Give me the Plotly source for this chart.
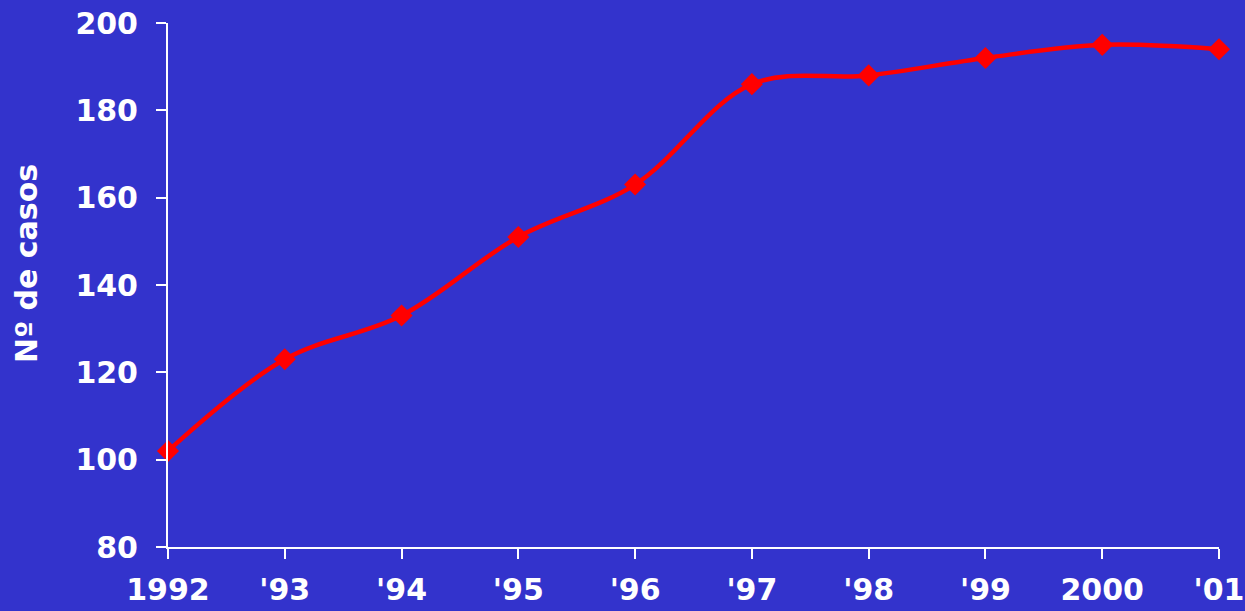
import plotly.graph_objects as go

years = ["1992", "'93", "'94", "'95", "'96", "'97", "'98", "'99", "2000", "'01"]
casos = [102, 123, 133, 151, 163, 186, 188, 192, 195, 194]
y_ticks = [80, 100, 120, 140, 160, 180, 200]
y_title = "Nº de casos"

BG = "#3333CC"
FONT = "DejaVu Sans, Liberation Sans, Arial, sans-serif"

xs = list(range(len(years)))

fig = go.Figure()
fig.add_trace(go.Scatter(
    x=xs, y=casos, mode="lines+markers",
    line=dict(color="#FF0000", width=4.5, shape="spline", smoothing=1.0),
    marker=dict(symbol="diamond", size=17, color="#FF0000"),
    cliponaxis=False, showlegend=False,
))

fig.update_layout(
    width=1245, height=611,
    paper_bgcolor=BG, plot_bgcolor=BG,
    margin=dict(l=168, r=26, t=23, b=64, autoexpand=False),
    font=dict(family=FONT, color="white", size=30),
    xaxis=dict(
        range=[0, len(years) - 1], tickvals=xs, ticktext=years,
        showgrid=False, zeroline=False, showline=True, linecolor="white", linewidth=2,
        ticks="outside", ticklen=10, tickwidth=2, tickcolor="white",
        tickfont=dict(family=FONT, size=30, color="white", weight="bold"),
        ticklabelstandoff=5, automargin=False,
    ),
    yaxis=dict(
        range=[80, 200], tickvals=y_ticks,
        showgrid=False, zeroline=False, showline=True, linecolor="white", linewidth=2,
        ticks="outside", ticklen=10, tickwidth=2, tickcolor="white",
        tickfont=dict(family=FONT, size=30, color="white", weight="bold"),
        ticklabelstandoff=12, automargin=False,
    ),
    annotations=[dict(
        text=y_title, textangle=-90, showarrow=False,
        xref="paper", yref="paper", x=-0.1342, y=0.542,
        xanchor="center", yanchor="middle",
        font=dict(family=FONT, size=30, color="white", weight="bold"),
    )],
)

fig.write_html("out.html", config={"displayModeBar": False},
               post_script="document.body.style.margin='0';document.body.style.background='%s';" % BG)
